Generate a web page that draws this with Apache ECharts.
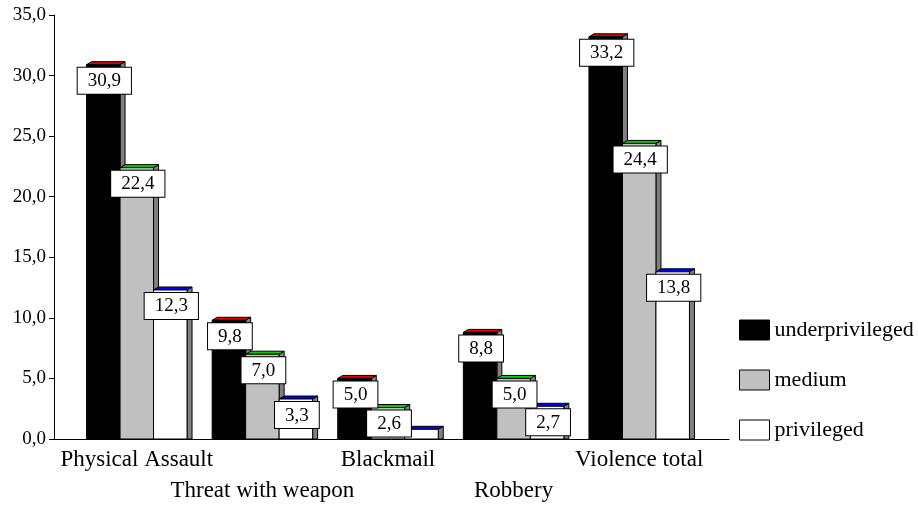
<!DOCTYPE html>
<html>
<head>
<meta charset="utf-8">
<script src="https://cdn.jsdelivr.net/npm/echarts@6/dist/echarts.min.js"></script>
<style>
html,body{margin:0;padding:0;background:#fff;}
#chart{width:918px;height:506px;}
</style>
</head>
<body>
<div id="chart"></div>
<script>
const categories = ['Physical Assault', 'Threat with weapon', 'Blackmail', 'Robbery', 'Violence total'];
const seriesNames = ['underprivileged', 'medium', 'privileged'];
const underprivileged = [30.9, 9.8, 5.0, 8.8, 33.2];
const medium = [22.4, 7.0, 2.6, 5.0, 24.4];
const privileged = [12.3, 3.3, 0.8, 2.7, 13.8];
const hiddenLabels = [[2, 2]]; // [seriesIndex, categoryIndex]: Blackmail / privileged has no label
const yMin = 0, yMax = 35, yStep = 5;

const frontColors = ['#000000', '#c0c0c0', '#ffffff'];
const topColors = ['#e00000', '#00d000', '#0000ff'];
const values = [underprivileged, medium, privileged];

function fmt(v) { return v.toFixed(1).replace('.', ','); }

function makeRender(s) {
  return function (params, api) {
    const ci = api.value(0), v = api.value(1);
    const base = api.coord([ci, 0]);
    const top = api.coord([ci, v]);
    const band = api.size([1, 0])[0];
    const bw = band * 0.8 / 3;
    const x0 = base[0] - 1.5 * bw + s * bw;
    const x1 = x0 + bw;
    const y0 = base[1], yt = top[1];
    const dx = 5, dy = 3;
    const children = [
      { type: 'polygon', z2: s * 10 + 1,
        shape: { points: [[x1, yt], [x1 + dx, yt - dy], [x1 + dx, y0], [x1, y0]] },
        style: { fill: '#808080', stroke: '#000', lineWidth: 1 } },
      { type: 'polygon', z2: s * 10 + 1,
        shape: { points: [[x0, yt], [x0 + dx, yt - dy], [x1 + dx, yt - dy], [x1, yt]] },
        style: { fill: topColors[s], stroke: '#000', lineWidth: 1 } },
      { type: 'rect', z2: s * 10 + 2,
        shape: { x: x0, y: yt, width: bw, height: y0 - yt },
        style: { fill: frontColors[s], stroke: '#000', lineWidth: 1 } }
    ];
    const hidden = hiddenLabels.some(h => h[0] === s && h[1] === ci);
    if (!hidden) {
      children.push({
        type: 'text', z2: 100,
        style: {
          text: fmt(v), x: (x0 + x1) / 2 + 1, y: yt + 3,
          align: 'center', verticalAlign: 'top',
          fontFamily: 'Liberation Serif', fontSize: 19, fill: '#000',
          backgroundColor: '#fff', borderColor: '#000', borderWidth: 1,
          padding: [4, 10, 3, 10]
        }
      });
    }
    return { type: 'group', children: children };
  };
}

const chart = echarts.init(document.getElementById('chart'));
const option = {
  backgroundColor: '#fff',
  animation: false,
  textStyle: { fontFamily: 'Liberation Serif' },
  legend: {
    orient: 'vertical', left: 739, top: 319, padding: 0, itemWidth: 30, itemHeight: 20, itemGap: 28,
    icon: 'rect',
    textStyle: { fontFamily: 'Liberation Serif', fontSize: 22, color: '#000', lineHeight: 22 },
    data: seriesNames.map((n, i) => ({ name: n, itemStyle: { color: frontColors[i], borderColor: '#000', borderWidth: 1 } }))
  },
  grid: [
    { left: 54, right: 189, top: 15, bottom: 67 },
    { left: 74, width: 628, top: 15, bottom: 67 }
  ],
  xAxis: [
    { gridIndex: 0, type: 'value', min: 0, max: 1,
      axisLine: { show: true, lineStyle: { color: '#000', width: 1 } },
      axisTick: { show: false }, axisLabel: { show: false }, splitLine: { show: false } },
    { gridIndex: 1, type: 'category', data: categories,
      axisLine: { show: false }, axisTick: { show: false },
      axisLabel: { interval: 0, margin: 5, fontFamily: 'Liberation Serif', fontSize: 23, color: '#000', lineHeight: 31,
        formatter: (v, i) => (i % 2 ? '\n' + v : v) } }
  ],
  yAxis: [
    { gridIndex: 0, type: 'value', min: yMin, max: yMax, interval: yStep,
      axisLine: { show: true, lineStyle: { color: '#000', width: 1 } },
      axisTick: { show: true, inside: false, length: 5, lineStyle: { color: '#000' } },
      axisLabel: { margin: 8, fontFamily: 'Liberation Serif', fontSize: 19, color: '#000', formatter: v => fmt(v) },
      splitLine: { show: false } },
    { gridIndex: 1, type: 'value', min: yMin, max: yMax, interval: yStep, show: false }
  ],
  series: seriesNames.map((n, s) => ({
    name: n, type: 'custom', xAxisIndex: 1, yAxisIndex: 1,
    itemStyle: { color: frontColors[s], borderColor: '#000' },
    renderItem: makeRender(s),
    encode: { x: 0, y: 1 },
    data: values[s].map((v, i) => [i, v])
  }))
};
chart.setOption(option);
</script>
</body>
</html>
